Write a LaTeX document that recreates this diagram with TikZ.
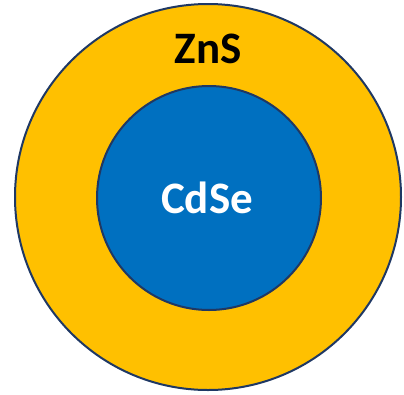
\documentclass[tikz,border=0pt]{standalone}
\usepackage{fontspec}
\setmainfont{Carlito}
\begin{document}
\begin{tikzpicture}[x=1pt,y=-1pt,
  shell/.style={draw=edge,line width=2pt,fill=shellfill},
  core/.style={draw=edge,line width=2pt,fill=corefill},
  label/.style={font=\bfseries\fontsize{45}{50}\selectfont,anchor=base}]
\definecolor{edge}{HTML}{1F3864}
\definecolor{shellfill}{HTML}{FFC000}
\definecolor{corefill}{HTML}{0070C0}
\useasboundingbox (0,0) rectangle (404,394);
% ZnS shell and CdSe core
\fill[shell] (208,197) circle[radius=193] coordinate (shell);
\fill[core] (209,198) circle[radius=112] coordinate (core);
\node[label,text=black] (zns) at (208,63) {ZnS};
\node[label,text=white] (cdse) at (207,213) {CdSe};
\end{tikzpicture}
\end{document}
